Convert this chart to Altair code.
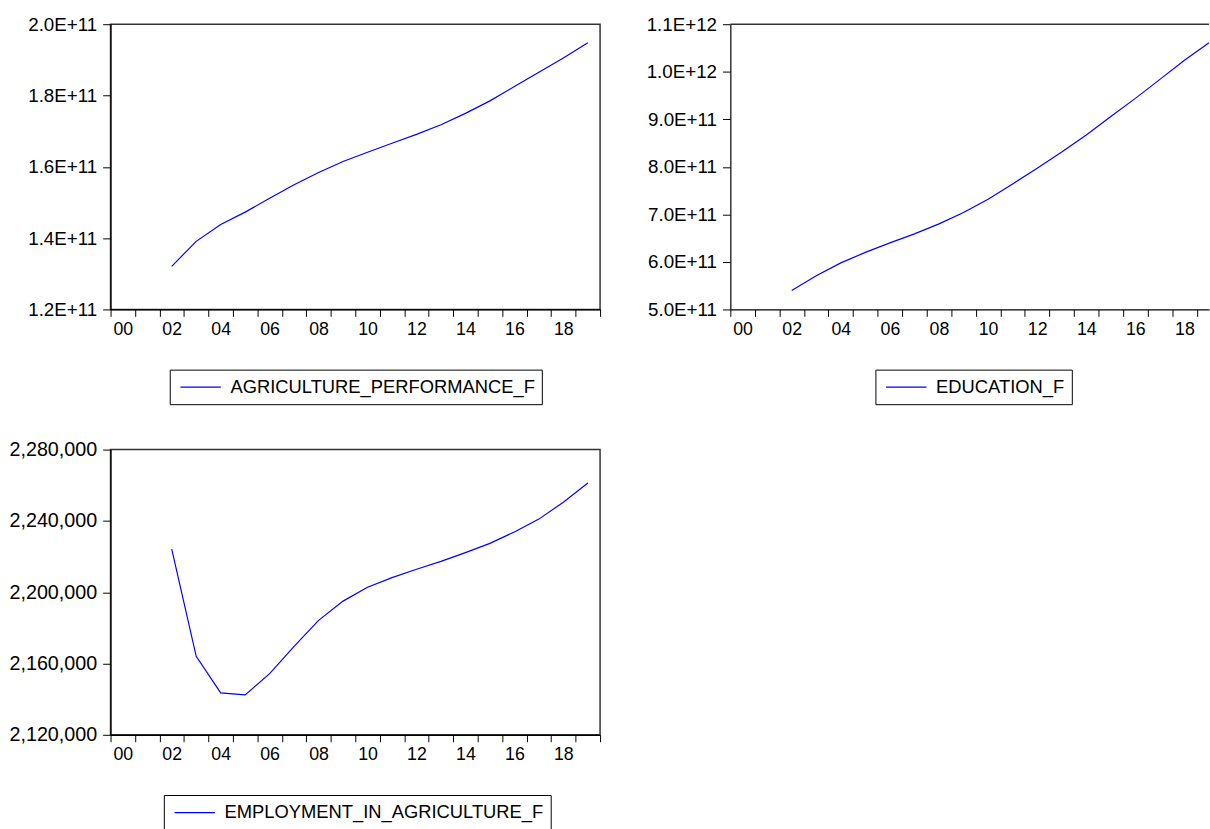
import altair as alt
import pandas as pd

# ---- data (annual, 2002-2019) ----
years = list(range(2002, 2020))
agri = [1.321e11, 1.391e11, 1.438e11, 1.473e11, 1.512e11, 1.550e11, 1.584e11, 1.615e11,
        1.641e11, 1.666e11, 1.691e11, 1.718e11, 1.750e11, 1.785e11, 1.825e11, 1.865e11,
        1.905e11, 1.948e11]
edu = [5.40e11, 5.71e11, 5.98e11, 6.20e11, 6.40e11, 6.59e11, 6.80e11, 7.04e11, 7.32e11,
       7.64e11, 7.97e11, 8.31e11, 8.67e11, 9.06e11, 9.44e11, 9.84e11, 10.24e11, 10.61e11]
emp = [2224200, 2164000, 2143500, 2142400, 2154300, 2169600, 2184200, 2195000, 2202800,
       2208200, 2212900, 2217300, 2222200, 2227400, 2233800, 2241000, 2250500, 2261300]

names = ["AGRICULTURE_PERFORMANCE_F", "EDUCATION_F", "EMPLOYMENT_IN_AGRICULTURE_F"]
agri_ticks = [1.2e11, 1.4e11, 1.6e11, 1.8e11, 2.0e11]
edu_ticks = [5.0e11, 6.0e11, 7.0e11, 8.0e11, 9.0e11, 1.0e12, 1.1e12]
emp_ticks = [2120000, 2160000, 2200000, 2240000, 2280000]

FONT = "Liberation Sans"
BLUE = "#0000ff"
BORDER = "#333333"
W, H = 496, 289
W2 = 485
YEXT = 105
XLABEL = ("datum.value % 2 == 0 && datum.value < 2019 ? "
          "((datum.value % 100) < 10 ? '0' : '') + (datum.value % 100) : ''")
SCI = "upper(format(datum.value, '.1e'))"
COMMA = "format(datum.value, ',')"
# legend line: custom path so the stroke is long while the row stays short
SYMBOL = "M-0.683,0H3.317"


def panel(vals, name, yticks, ylabel, ysize, xmax, width, legend_x, border=False):
    df = pd.DataFrame({"year": years, "value": vals, "series": name})
    xvals = list(range(2000, int(xmax) + 1))
    half = width / (xmax - 2000) / 2
    xaxis = alt.Axis(values=xvals, labelExpr=XLABEL, labelOffset=half, tickSize=7,
                     labelPadding=4, grid=False, title=None, labelOverlap=False,
                     labelBound=False, labelFlush=False, labelFontSize=18)
    yaxis = alt.Axis(values=yticks, labelExpr=ylabel, tickSize=8, labelPadding=6,
                     grid=False, title=None, minExtent=YEXT, maxExtent=YEXT,
                     labelOverlap=False, labelFlush=False, labelFontSize=ysize)
    line = alt.Chart(df).transform_calculate(xm="datum.year + 0.5").mark_line(
        strokeWidth=1.2, clip=True
    ).encode(
        x=alt.X("xm:Q", scale=alt.Scale(domain=[2000, xmax], nice=False, zero=False), axis=xaxis),
        y=alt.Y("value:Q", scale=alt.Scale(domain=[yticks[0], yticks[-1]], nice=False, zero=False),
                axis=yaxis),
        color=alt.Color("series:N", scale=alt.Scale(range=[BLUE]),
                        legend=alt.Legend(title=None, orient="none", legendX=legend_x, legendY=350,
                                          symbolType=SYMBOL, symbolSize=420,
                                          symbolStrokeWidth=1.3, labelFontSize=18.6,
                                          labelFont=FONT, labelColor="black", labelLimit=0,
                                          strokeColor="black", padding=6.75, fillColor="white",
                                          labelOffset=32.75, direction="vertical")),
    )
    if border:
        top = alt.Chart(alt.Data(values=[{}])).mark_rule(color=BORDER, strokeWidth=1.5).encode(
            x=alt.value(0), x2=alt.value(width), y=alt.value(0))
        return alt.layer(line, top).properties(
            width=width, height=H, view=alt.ViewBackground(strokeWidth=0))
    return line.properties(width=width, height=H)


p1 = panel(agri, names[0], agri_ticks, SCI, 19, 2020, W, 60)
p2 = panel(edu, names[1], edu_ticks, SCI, 19, 2019.5, W2, 147, border=True)
p3 = panel(emp, names[2], emp_ticks, COMMA, 20, 2020, W, 54)

row1 = alt.hconcat(p1, p2, spacing=13).resolve_scale(color="independent", x="independent",
                                                      y="independent")
chart = alt.vconcat(row1, p3, spacing=33).resolve_scale(
    color="independent", x="independent", y="independent"
).configure(
    padding={"left": 6, "top": 9, "right": 0, "bottom": 0},
    background="white",
).configure_view(
    stroke=BORDER, strokeWidth=1.5
).configure_axis(
    labelFont=FONT, labelColor="black",
    domainColor="black", domainWidth=1.2, tickColor="black", tickWidth=1,
)

chart.save("out.html", embed_options={"renderer": "svg", "actions": False})
